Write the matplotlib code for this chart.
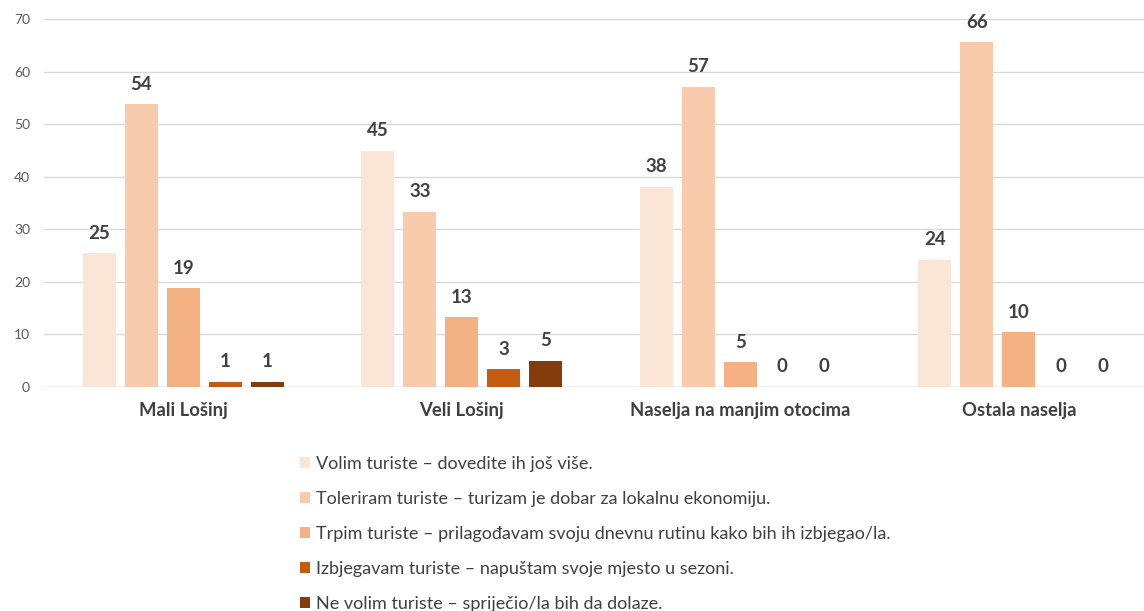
import numpy as np
import matplotlib.pyplot as plt

plt.rcParams["font.family"] = ["Lato", "DejaVu Sans"]

categories = ["Mali Lošinj", "Veli Lošinj", "Naselja na manjim otocima", "Ostala naselja"]
series_names = [
    "Volim turiste – dovedite ih još više.",
    "Toleriram turiste – turizam je dobar za lokalnu ekonomiju.",
    "Trpim turiste – prilagođavam svoju dnevnu rutinu kako bih ih izbjegao/la.",
    "Izbjegavam turiste – napuštam svoje mjesto u sezoni.",
    "Ne volim turiste – spriječio/la bih da dolaze.",
]
volim = [25.4, 44.9, 38.1, 24.2]
toleriram = [53.8, 33.3, 57.1, 65.6]
trpim = [18.8, 13.3, 4.7, 10.4]
izbjegavam = [1.0, 3.4, 0.0, 0.0]
ne_volim = [1.0, 5.0, 0.0, 0.0]
series = [volim, toleriram, trpim, izbjegavam, ne_volim]
colors = ["#FBE5D6", "#F8CBAD", "#F4B183", "#C55A11", "#843C0C"]

W, H = 1144, 611
fig = plt.figure(figsize=(W / 100, H / 100), dpi=100)
ax = fig.add_axes([44 / W, (H - 387) / H, 1114 / W, 368 / H])

x = np.arange(len(categories))
pitch = 0.151
width = 0.119
for i, (vals, col, name) in enumerate(zip(series, colors, series_names)):
    pos = x + (i - 2) * pitch
    bars = ax.bar(pos, vals, width, color=col, label=name, zorder=3)
    for b, v in zip(bars, vals):
        ax.text(b.get_x() + b.get_width() / 2, v + 2.2, "%.0f" % v,
                ha="center", va="bottom", fontsize=13.5, fontweight="bold",
                color="#404040")

ax.set_xlim(-0.5, 3.5)
ax.set_ylim(0, 70)
ax.set_yticks(range(0, 71, 10))
ax.yaxis.grid(True, color="#D9D9D9", linewidth=1, zorder=0)
for s in ["top", "right", "left", "bottom"]:
    ax.spines[s].set_visible(False)
ax.axhline(0, color="#D9D9D9", linewidth=1, zorder=2)
ax.tick_params(axis="y", length=0, pad=10, labelsize=10, labelcolor="#595959")
ax.tick_params(axis="x", length=0, pad=11)
ax.set_xticks(x)
ax.set_xticklabels(categories, fontsize=13.3, fontweight="bold", color="#404040")

fig.legend(loc="upper left", bbox_to_anchor=(284 / W, 1 - 440 / H), frameon=False,
           fontsize=13, labelcolor="#404040", handlelength=0.55, handleheight=0.55,
           handletextpad=0.3, labelspacing=1.05)

fig.savefig("out.png", dpi=100)
